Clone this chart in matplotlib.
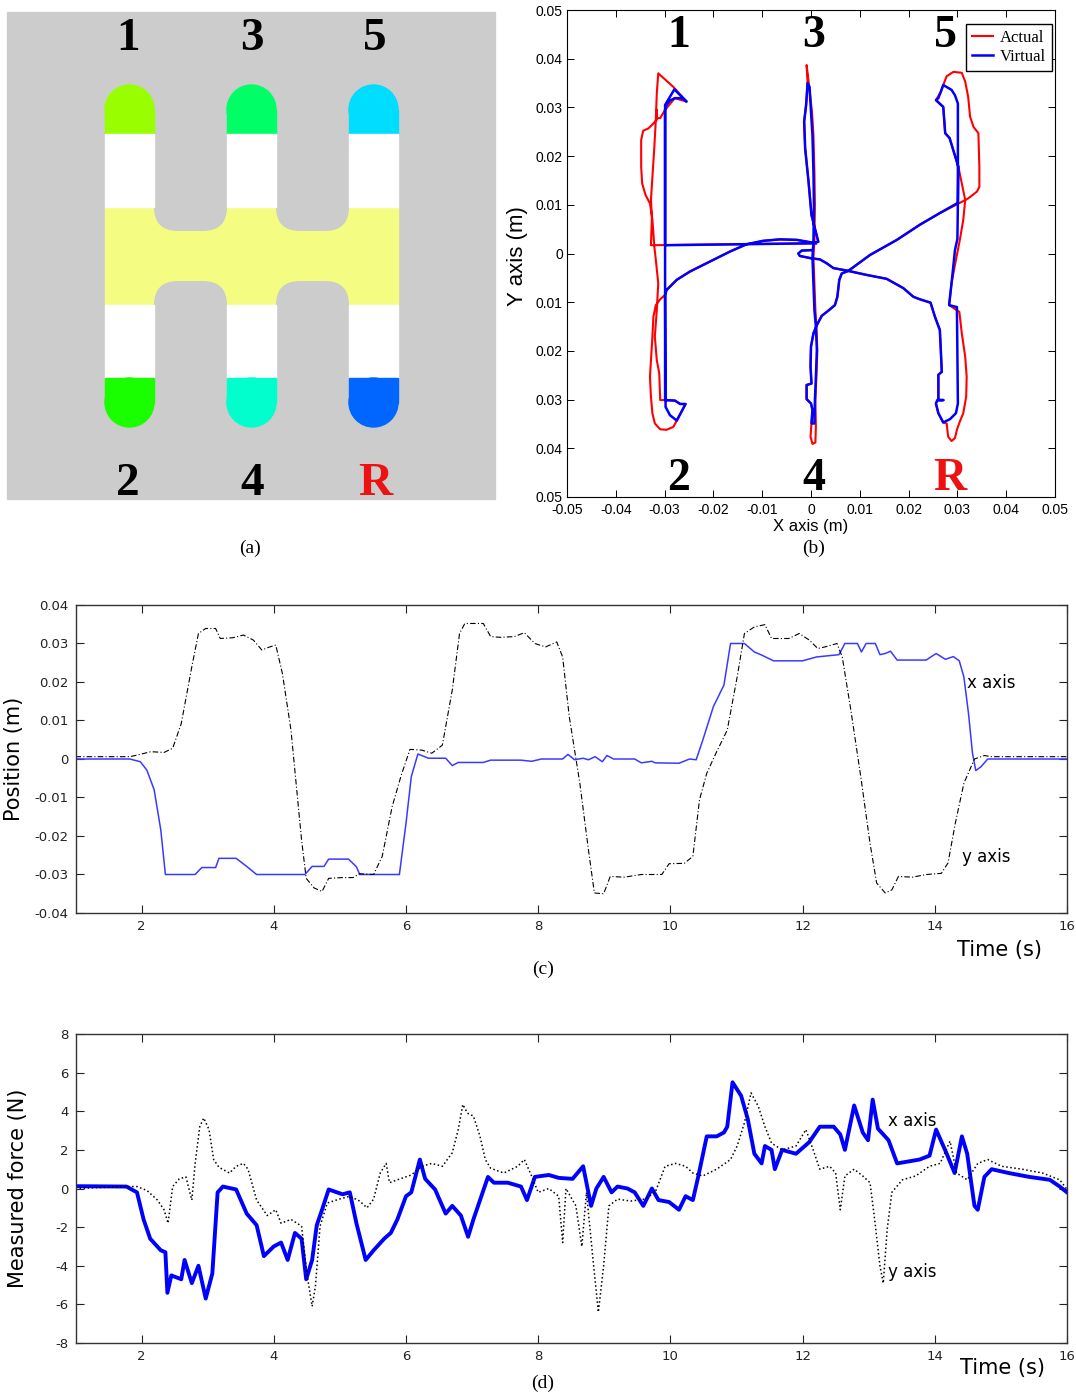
import numpy as np
import matplotlib
matplotlib.use('Agg')
import matplotlib.pyplot as plt
from matplotlib.patches import Rectangle, Circle, FancyBboxPatch

# ---- data ----
# (a) shift gate
gear_top = ['1', '3', '5']
gear_bottom = ['2', '4', 'R']
cap_top_colors = ['#99ff00', '#00ff66', '#00ddff']
cap_bottom_colors = ['#1aff00', '#00ffcc', '#0066ff']

# (b) trajectories (m)
virtual_x = [0.001, -0.0299, -0.0299, -0.0296, -0.0289, -0.0279, -0.0265, -0.0255, -0.0280, -0.0299,
             -0.0299, -0.0279, -0.0268, -0.0257, -0.0275, -0.0289, -0.0298, -0.0299, -0.0296, -0.0275,
             -0.0248, -0.0200, -0.0166, -0.0132, -0.0098, -0.0064, -0.0029, 0.0005, 0.0015, 0.0001,
             -0.0005, -0.0012, -0.0014, -0.0010, -0.0007, -0.0003, 0.0000, 0.0003, 0.0005, 0.0006,
             0.0005, 0.0003, 0.0005, 0.0007, 0.0010, 0.0012, 0.0010, 0.0008, 0.0007, 0.0001,
             0.0003, 0.0000, -0.0009, -0.0009, 0.0001, -0.0001, 0.0000, 0.0005, 0.0012, 0.0022,
             0.0036, 0.0049, 0.0054, 0.0058, 0.0063, 0.0076, 0.0121, 0.0176, 0.0223, 0.0264,
             0.0301, 0.0301, 0.0295, 0.0288, 0.0271, 0.0266, 0.0261, 0.0256, 0.0271, 0.0275,
             0.0284, 0.0302, 0.0300, 0.0295, 0.0288, 0.0283, 0.0299, 0.0301, 0.0297, 0.0285,
             0.0271, 0.0261, 0.0256, 0.0259, 0.0271, 0.0261, 0.0261, 0.0268, 0.0266, 0.0264,
             0.0254, 0.0245, 0.0223, 0.0210, 0.0189, 0.0155, 0.0114, 0.0073, 0.0046, 0.0032,
             0.0018, 0.0001, -0.0023, -0.0026, -0.0019, 0.0003]
virtual_y = [0.0021, 0.0017, 0.0295, 0.0305, 0.0314, 0.0319, 0.0319, 0.0312, 0.0337, 0.0305,
             -0.0301, -0.0302, -0.0309, -0.0309, -0.0343, -0.0332, -0.0315, -0.0085, -0.0075, -0.0054,
             -0.0037, -0.0013, 0.0004, 0.0019, 0.0026, 0.0029, 0.0028, 0.0022, 0.0024, 0.0079,
             0.0147, 0.0216, 0.0271, 0.0305, 0.0350, 0.0342, 0.0291, 0.0243, 0.0168, 0.0100,
             0.0024, -0.0007, -0.0061, -0.0116, -0.0150, -0.0198, -0.0253, -0.0301, -0.0349, -0.0349,
             -0.0321, -0.0308, -0.0299, -0.0270, -0.0267, -0.0232, -0.0191, -0.0164, -0.0147, -0.0128,
             -0.0117, -0.0106, -0.0089, -0.0054, -0.0041, -0.0036, -0.0003, 0.0028, 0.0059, 0.0083,
             0.0104, 0.0308, 0.0325, 0.0336, 0.0346, 0.0332, 0.0319, 0.0315, 0.0301, 0.0247,
             0.0237, 0.0178, 0.0030, 0.0007, -0.0061, -0.0106, -0.0110, -0.0308, -0.0328, -0.0340,
             -0.0347, -0.0328, -0.0308, -0.0301, -0.0301, -0.0301, -0.0249, -0.0243, -0.0198, -0.0157,
             -0.0130, -0.0101, -0.0094, -0.0089, -0.0071, -0.0052, -0.0044, -0.0035, -0.0030, -0.0020,
             -0.0012, -0.0010, -0.0005, 0.0000, 0.0006, 0.0007]

actual_x = [0.001, -0.0328, -0.0326, -0.0328, -0.0325, -0.0321, -0.0318, -0.0316, -0.0313, -0.0282,
            -0.0255, -0.0279, -0.0299, -0.0309, -0.0316, -0.0316, -0.0316, -0.0323, -0.0333, -0.0344,
            -0.0348, -0.0348, -0.0346, -0.0339, -0.0330, -0.0325, -0.0321, -0.0318, -0.0313, -0.0316,
            -0.0320, -0.0316, -0.0311, -0.0309, -0.0299, -0.0279, -0.0268, -0.0257, -0.0275, -0.0282,
            -0.0296, -0.0309, -0.0320, -0.0325, -0.0328, -0.0330, -0.0328, -0.0325, -0.0323, -0.0318,
            -0.0309, -0.0299, -0.0296, -0.0275, -0.0248, -0.0200, -0.0166, -0.0132, -0.0098, -0.0064,
            -0.0029, 0.0005, 0.0015, 0.0001, -0.0005, -0.0012, -0.0014, -0.0010, -0.0007, -0.0009,
            -0.0004, 0.0002, 0.0005, 0.0007, 0.0008, 0.0007, 0.0005, 0.0007, 0.0009, 0.0011,
            0.0013, 0.0011, 0.0009, 0.0010, 0.0009, 0.0003, -0.0001, 0.0001, 0.0003, 0.0000,
            -0.0009, -0.0009, 0.0001, -0.0001, 0.0000, 0.0005, 0.0012, 0.0022, 0.0036, 0.0049,
            0.0054, 0.0058, 0.0063, 0.0076, 0.0121, 0.0176, 0.0223, 0.0264, 0.0305, 0.0322,
            0.0340, 0.0345, 0.0345, 0.0343, 0.0333, 0.0326, 0.0322, 0.0316, 0.0309, 0.0292,
            0.0278, 0.0271, 0.0266, 0.0256, 0.0271, 0.0275, 0.0284, 0.0302, 0.0316, 0.0312,
            0.0305, 0.0297, 0.0288, 0.0283, 0.0304, 0.0309, 0.0316, 0.0319, 0.0318, 0.0312,
            0.0305, 0.0299, 0.0295, 0.0288, 0.0281, 0.0278, 0.0271, 0.0261, 0.0256, 0.0259,
            0.0271, 0.0261, 0.0261, 0.0268, 0.0266, 0.0264, 0.0254, 0.0245, 0.0223, 0.0210,
            0.0189, 0.0155, 0.0114, 0.0073, 0.0046, 0.0032, 0.0018, 0.0001, -0.0023, -0.0026,
            -0.0019, 0.0003]
actual_y = [0.0021, 0.0017, 0.0076, 0.0110, 0.0158, 0.0219, 0.0274, 0.0329, 0.0370, 0.0342,
            0.0312, 0.0319, 0.0295, 0.0278, 0.0278, 0.0295, 0.0275, 0.0267, 0.0257, 0.0252,
            0.0233, 0.0178, 0.0144, 0.0120, 0.0103, 0.0069, 0.0014, -0.0013, -0.0061, -0.0116,
            -0.0171, -0.0219, -0.0246, -0.0301, -0.0301, -0.0302, -0.0309, -0.0309, -0.0343, -0.0356,
            -0.0362, -0.0361, -0.0349, -0.0328, -0.0294, -0.0253, -0.0219, -0.0171, -0.0130, -0.0106,
            -0.0094, -0.0085, -0.0075, -0.0054, -0.0037, -0.0013, 0.0004, 0.0019, 0.0026, 0.0029,
            0.0028, 0.0022, 0.0024, 0.0079, 0.0147, 0.0216, 0.0271, 0.0305, 0.0350, 0.0387,
            0.0345, 0.0291, 0.0243, 0.0168, 0.0100, 0.0024, -0.0007, -0.0061, -0.0116, -0.0150,
            -0.0198, -0.0253, -0.0301, -0.0356, -0.0388, -0.0391, -0.0376, -0.0349, -0.0321, -0.0308,
            -0.0299, -0.0270, -0.0267, -0.0232, -0.0191, -0.0164, -0.0147, -0.0128, -0.0117, -0.0106,
            -0.0089, -0.0054, -0.0041, -0.0036, -0.0003, 0.0028, 0.0059, 0.0083, 0.0104, 0.0113,
            0.0127, 0.0137, 0.0178, 0.0247, 0.0260, 0.0281, 0.0322, 0.0353, 0.0371, 0.0373,
            0.0364, 0.0346, 0.0332, 0.0315, 0.0301, 0.0247, 0.0237, 0.0178, 0.0110, 0.0069,
            0.0028, -0.0013, -0.0061, -0.0106, -0.0120, -0.0164, -0.0212, -0.0253, -0.0294, -0.0328,
            -0.0345, -0.0362, -0.0379, -0.0385, -0.0376, -0.0349, -0.0347, -0.0328, -0.0308, -0.0301,
            -0.0301, -0.0301, -0.0249, -0.0243, -0.0198, -0.0157, -0.0130, -0.0101, -0.0094, -0.0089,
            -0.0071, -0.0052, -0.0044, -0.0035, -0.0030, -0.0020, -0.0012, -0.0010, -0.0005, 0.0000,
            0.0006, 0.0007]

b_ticks = [-0.05, -0.04, -0.03, -0.02, -0.01, 0, 0.01, 0.02, 0.03, 0.04, 0.05]
b_xticklabels = ['-0.05', '-0.04', '-0.03', '-0.02', '-0.01', '0', '0.01', '0.02', '0.03', '0.04', '0.05']
b_yticklabels = ['0.05', '0.04', '0.03', '0.02', '0.01', '0', '0.01', '0.02', '0.03', '0.04', '0.05']

# (c) position vs time
pos_x_t = [1, 1.82, 1.98, 2.08, 2.19, 2.29, 2.36, 2.81, 2.91, 3.12, 3.17, 3.43, 3.59, 3.74, 4.47,
           4.58, 4.76, 4.83, 5.13, 5.25, 5.30, 5.90, 6.0, 6.08, 6.18, 6.34, 6.6, 6.70, 6.79, 7.17,
           7.28, 7.74, 7.9, 8.05, 8.37, 8.45, 8.55, 8.68, 8.76, 8.86, 8.97, 9.04, 9.14, 9.46, 9.56,
           9.72, 9.77, 10.13, 10.29, 10.39, 10.49, 10.65, 10.81, 10.91, 11.12, 11.27, 11.38, 11.56, 12.0, 12.21,
           12.55, 12.64, 12.83, 12.89, 12.96, 13.1, 13.17, 13.25, 13.33, 13.43, 13.87, 14.02, 14.16, 14.28, 14.37,
           14.44, 14.51, 14.57, 14.62, 14.7, 14.8, 14.91, 16]
pos_x = [0, 0, -0.0007, -0.0029, -0.008, -0.0184, -0.030, -0.030, -0.0282, -0.0282, -0.0258, -0.0258,
         -0.0279, -0.030, -0.030, -0.0279, -0.0279, -0.026, -0.026, -0.028, -0.030, -0.030, -0.0167,
         -0.0046, 0.0013, 0.0002, 0.0002, -0.0017, -0.0009, -0.0009, -0.0003, -0.0003, -0.0006, 0, 0,
         0.0012, -0.0002, 0.0002, -0.0002, 0.0006, -0.0007, 0.0009, 0, 0, -0.001, -0.0006, -0.001,
         -0.0011, 0, -0.0002, 0.0049, 0.0136, 0.0192, 0.030, 0.030, 0.0278, 0.027, 0.0255, 0.0255,
         0.0265, 0.0271, 0.030, 0.030, 0.0278, 0.030, 0.030, 0.0271, 0.0274, 0.028, 0.0257, 0.0257,
         0.0274, 0.0259, 0.0266, 0.0255, 0.0213, 0.0118, 0.0015, -0.003, -0.002, 0, 0, 0]
pos_y_t = [1, 1.82, 1.93, 2.14, 2.34, 2.47, 2.60, 2.76, 2.86, 2.97, 3.12, 3.19, 3.38, 3.54, 3.69,
           3.82, 3.92, 4.03, 4.13, 4.26, 4.42, 4.49, 4.61, 4.73, 4.83, 5.04, 5.20, 5.30, 5.51, 5.64,
           5.79, 5.93, 6.06, 6.24, 6.39, 6.55, 6.70, 6.81, 6.89, 7.17, 7.28, 7.43, 7.64, 7.79, 7.95,
           8.11, 8.28, 8.37, 8.47, 8.63, 8.76, 8.85, 8.99, 9.09, 9.30, 9.56, 9.87, 9.98, 10.21, 10.34,
           10.44, 10.55, 10.70, 10.86, 11.01, 11.12, 11.27, 11.43, 11.53, 11.79, 11.95, 12.1, 12.23, 12.36, 12.52,
           12.6, 12.73, 12.88, 13.02, 13.12, 13.25, 13.35, 13.45, 13.66, 13.87, 14.1, 14.2, 14.31, 14.44,
           14.6, 14.75, 14.86, 16]
pos_y = [0.0006, 0.0006, 0.001, 0.0019, 0.0017, 0.0028, 0.0092, 0.024, 0.0326, 0.0339, 0.0339, 0.0313,
         0.0315, 0.0322, 0.0309, 0.0283, 0.029, 0.0296, 0.0222, 0.0075, -0.021, -0.031, -0.0335, -0.0344,
         -0.031, -0.0308, -0.0308, -0.0298, -0.030, -0.0253, -0.0124, -0.0041, 0.0025, 0.0023, 0.0015,
         0.0036, 0.0179, 0.0326, 0.0352, 0.0352, 0.0318, 0.0316, 0.0318, 0.0328, 0.030, 0.0291, 0.0304,
         0.0265, 0.011, -0.0063, -0.0236, -0.0348, -0.035, -0.0305, -0.0307, -0.030, -0.030, -0.0272,
         -0.0271, -0.0253, -0.0106, -0.0037, 0.0019, 0.0075, 0.0213, 0.0326, 0.0343, 0.0349, 0.0313,
         0.0313, 0.0326, 0.0309, 0.0287, 0.0292, 0.030, 0.0265, 0.0127, -0.0046, -0.0219, -0.0322,
         -0.0348, -0.034, -0.0305, -0.0307, -0.030, -0.0297, -0.027, -0.0167, -0.0063, 0, 0.0009,
         0.0006, 0.0006]

# (d) measured force vs time
force_x_t = [1, 1.77, 1.93, 2.03, 2.13, 2.29, 2.36, 2.39, 2.45, 2.6, 2.65, 2.76, 2.86, 2.97, 3.07,
             3.15, 3.23, 3.43, 3.59, 3.74, 3.85, 4.0, 4.11, 4.21, 4.32, 4.42, 4.49, 4.58, 4.65, 4.73,
             4.83, 5.04, 5.15, 5.25, 5.39, 5.51, 5.67, 5.77, 5.87, 6.0, 6.08, 6.21, 6.29, 6.44, 6.6,
             6.7, 6.83, 6.94, 7.02, 7.12, 7.24, 7.33, 7.54, 7.74, 7.83, 7.95, 8.16, 8.31, 8.52, 8.68,
             8.8, 8.88, 8.99, 9.11, 9.2, 9.35, 9.46, 9.59, 9.72, 9.82, 9.98, 10.13, 10.23, 10.34, 10.42,
             10.55, 10.7, 10.81, 10.86, 10.94, 11.07, 11.17, 11.27, 11.38, 11.43, 11.53, 11.58, 11.69, 11.9,
             12.1, 12.26, 12.47, 12.57, 12.64, 12.78, 12.91, 12.99, 13.06, 13.14, 13.3, 13.43, 13.77, 13.92,
             14.02, 14.18, 14.3, 14.41, 14.49, 14.6, 14.65, 14.75, 14.86, 15.12, 15.43, 15.74, 15.89, 16]
force_x = [0.12, 0.1, -0.2, -1.6, -2.6, -3.2, -3.3, -5.4, -4.5, -4.7, -3.7, -4.9, -4.0, -5.7, -4.4,
           -0.2, 0.1, -0.05, -1.3, -1.9, -3.5, -3.0, -2.8, -3.7, -2.3, -2.6, -4.7, -3.7, -1.9, -1.1,
           -0.05, -0.3, -0.2, -1.8, -3.7, -3.2, -2.6, -2.3, -1.6, -0.4, -0.2, 1.5, 0.5, -0.05, -1.3,
           -0.9, -1.4, -2.5, -1.6, -0.6, 0.6, 0.3, 0.3, 0.1, -0.6, 0.6, 0.7, 0.55, 0.5, 1.15,
           -0.9, 0.0, 0.6, -0.2, 0.1, 0.0, -0.2, -0.9, 0.0, -0.6, -0.7, -1.1, -0.4, -0.6, 0.6,
           2.7, 2.7, 2.9, 3.2, 5.5, 4.8, 3.6, 1.8, 1.3, 2.2, 2.0, 1.0, 2.0, 1.8,
           2.4, 3.2, 3.2, 2.8, 2.0, 4.3, 2.9, 2.5, 4.6, 3.1, 2.5, 1.3, 1.5, 1.7,
           3.05, 1.8, 0.8, 2.7, 1.8, -0.9, -1.1, 0.6, 1.0, 0.8, 0.6, 0.45, 0.1, -0.2]
force_y_t = [1, 1.77, 1.93, 2.08, 2.24, 2.34, 2.4, 2.47, 2.57, 2.67, 2.76, 2.81, 2.88, 2.94, 3.02,
             3.09, 3.17, 3.33, 3.43, 3.54, 3.61, 3.74, 3.9, 4.03, 4.11, 4.26, 4.42, 4.5, 4.58, 4.63,
             4.7, 4.81, 4.99, 5.15, 5.3, 5.41, 5.51, 5.61, 5.7, 5.75, 5.87, 6.08, 6.24, 6.39, 6.55,
             6.7, 6.79, 6.86, 6.93, 7.02, 7.12, 7.2, 7.28, 7.48, 7.69, 7.79, 7.9, 8.0, 8.16, 8.31,
             8.37, 8.42, 8.57, 8.66, 8.73, 8.83, 8.91, 8.99, 9.07, 9.2, 9.4, 9.61, 9.77, 9.92, 10.08,
             10.23, 10.34, 10.49, 10.7, 10.91, 11.01, 11.12, 11.22, 11.33, 11.43, 11.53, 11.69, 11.9, 12.05,
             12.16, 12.26, 12.41, 12.5, 12.57, 12.64, 12.78, 12.91, 13.02, 13.09, 13.17, 13.22, 13.28, 13.35,
             13.51, 13.71, 13.92, 14.08, 14.23, 14.33, 14.49, 14.65, 14.8, 15.01, 15.32, 15.63, 15.89, 16]
force_y = [0.0, 0.1, 0.1, -0.1, -0.6, -1.1, -1.8, 0.1, 0.5, 0.6, -0.6, 1.3, 3.2, 3.65, 3.05,
           1.5, 1.1, 0.8, 1.15, 1.3, 1.0, -0.6, -1.4, -1.1, -1.8, -1.6, -1.95, -4.4, -6.1, -5.05,
           -1.95, -0.75, -0.55, -0.4, -0.65, -1.0, -0.55, 0.8, 1.3, 0.3, 0.45, 0.7, 1.15, 1.3, 1.15,
           1.85, 3.05, 4.35, 3.9, 3.75, 2.7, 1.5, 1.05, 0.8, 1.15, 1.5, 0.65, -0.2, 0.0, -0.4,
           -2.8, 0.0, -0.9, -3.0, -0.2, -3.7, -6.4, -4.0, -0.9, -0.55, -0.65, -0.55, -0.2, 1.15, 1.3,
           1.15, 0.8, 0.65, 1.0, 1.5, 2.2, 3.4, 4.95, 4.25, 3.2, 2.35, 2.0, 2.2, 3.05,
           2.0, 1.0, 1.15, 0.8, -1.1, 0.65, 1.0, 0.65, 0.3, -1.6, -4.0, -4.9, -2.1, -0.2,
           0.45, 0.65, 1.15, 1.3, 2.45, 0.8, 0.45, 1.3, 1.5, 1.15, 1.0, 0.8, 0.45, -0.05]

time_ticks = [2, 4, 6, 8, 10, 12, 14, 16]
pos_ticks = [-0.04, -0.03, -0.02, -0.01, 0, 0.01, 0.02, 0.03, 0.04]
pos_ticklabels = ['-0.04', '-0.03', '-0.02', '-0.01', '0', '0.01', '0.02', '0.03', '0.04']
force_ticks = [-8, -6, -4, -2, 0, 2, 4, 6, 8]

# ---- figure ----
plt.rcParams['axes.unicode_minus'] = False
W, H = 1076, 1398
fig = plt.figure(figsize=(W / 100, H / 100), dpi=100)


def box(l, t, r, b):
    return [l / W, 1 - b / H, (r - l) / W, (b - t) / H]


def ftext(px, py, s, **kw):
    fig.text(px / W, 1 - py / H, s, **kw)


serif = 'Liberation Serif'
arial = 'Liberation Sans'

# (a)
axa = fig.add_axes(box(0, 0, 500, 520))
axa.set_xlim(0, 500)
axa.set_ylim(520, 0)
axa.axis('off')
gray = '#cccccc'
axa.add_patch(Rectangle((7, 12), 488, 487, color=gray))
axa.add_patch(Rectangle((105, 207), 293, 98, color='#f4fc82'))
for gx in (154, 276):
    axa.add_patch(FancyBboxPatch((gx, 150), 73, 81, boxstyle='round,pad=0,rounding_size=24',
                                 fc=gray, ec='none'))
    axa.add_patch(FancyBboxPatch((gx, 281), 73, 90, boxstyle='round,pad=0,rounding_size=24',
                                 fc=gray, ec='none'))
r = 24.5
for i, cx in enumerate([129.5, 251.5, 373.5]):
    ct, cb = cap_top_colors[i], cap_bottom_colors[i]
    axa.add_patch(Circle((cx, 85 + r), r, color=ct))
    axa.add_patch(Rectangle((cx - r, 85 + r), 2 * r, 134 - 85 - r, color=ct))
    axa.add_patch(Rectangle((cx - r, 134), 2 * r, 73, color='white'))
    axa.add_patch(Rectangle((cx - r, 305), 2 * r, 73, color='white'))
    axa.add_patch(Rectangle((cx - r, 378), 2 * r, 427 - r - 378, color=cb))
    axa.add_patch(Circle((cx, 427 - r), r, color=cb))
for i, cx in enumerate([128, 252, 375]):
    axa.text(cx, 50, gear_top[i], ha='center', va='baseline', fontsize=34,
             fontweight='bold', family=serif, color='black')
    axa.text(cx, 495, gear_bottom[i], ha='center', va='baseline', fontsize=34,
             fontweight='bold', family=serif,
             color='#ee1111' if gear_bottom[i] == 'R' else 'black')
ftext(250, 548, '(a)', ha='center', va='center', fontsize=14, family=serif)

# (b)
axb = fig.add_axes(box(567, 10, 1055, 497))
axb.plot(actual_x, actual_y, color='red', lw=1.5, label='Actual')
axb.plot(virtual_x, virtual_y, color='blue', lw=1.8, label='Virtual')
axb.set_xlim(-0.05, 0.05)
axb.set_ylim(-0.05, 0.05)
axb.set_xticks(b_ticks)
axb.set_xticklabels(b_xticklabels, family=arial)
axb.set_yticks(b_ticks)
axb.set_yticklabels(b_yticklabels, family=arial)
axb.tick_params(direction='in', top=True, right=True, length=5, width=0.7, labelsize=10)
axb.tick_params(axis='x', pad=4)
axb.tick_params(axis='y', pad=3)
for s in axb.spines.values():
    s.set_linewidth(0.8)
leg = axb.legend(loc='upper right', bbox_to_anchor=(0.994, 0.971),
                 prop={'family': serif, 'size': 12}, fancybox=False,
                 edgecolor='black', framealpha=1, handlelength=1.3, handletextpad=0.4,
                 labelspacing=0.2, borderpad=0.35, borderaxespad=0)
leg.get_frame().set_linewidth(1.0)
for i, gx in enumerate([-0.027, 0.0006, 0.0275]):
    axb.text(gx, 0.0425, gear_top[i], ha='center', va='baseline', fontsize=33,
             fontweight='bold', family=serif)
for i, gx in enumerate([-0.0272, 0.0006, 0.0285]):
    axb.text(gx, -0.0485, gear_bottom[i], ha='center', va='baseline', fontsize=33,
             fontweight='bold', family=serif,
             color='#ee1111' if gear_bottom[i] == 'R' else 'black')
ftext(517, 256, 'Y axis (m)', rotation=90, ha='center', va='center', fontsize=16, family=arial)
ftext(811, 527, 'X axis (m)', ha='center', va='center', fontsize=12, family=arial)
ftext(814, 548, '(b)', ha='center', va='center', fontsize=14, family=serif)

# (c)
axc = fig.add_axes(box(75.5, 605, 1067, 913))
axc.plot(pos_x_t, pos_x, color='#3a3aff', lw=1.1)
axc.plot(pos_y_t, pos_y, color='black', lw=0.8, linestyle=(0, (5, 2, 1, 2)))
axc.set_xlim(1, 16)
axc.set_ylim(-0.04, 0.04)
axc.set_xticks(time_ticks)
axc.set_yticks(pos_ticks)
axc.set_yticklabels(pos_ticklabels)
axc.text(14.49, 0.0197, 'x axis', ha='left', va='center', fontsize=12)
axc.text(14.41, -0.0255, 'y axis', ha='left', va='center', fontsize=12)
ftext(957, 950, 'Time (s)', ha='left', va='center', fontsize=15)
ftext(14, 759, 'Position (m)', rotation=90, ha='center', va='center', fontsize=15)
ftext(543, 969, '(c)', ha='center', va='center', fontsize=14, family=serif)

# (d)
axd = fig.add_axes(box(75.5, 1034, 1067, 1343))
axd.plot(force_x_t, force_x, color='blue', lw=2.8)
axd.plot(force_y_t, force_y, color='black', lw=1.1, linestyle=':')
axd.set_xlim(1, 16)
axd.set_ylim(-8, 8)
axd.set_xticks(time_ticks)
axd.set_yticks(force_ticks)
axd.text(13.29, 3.47, 'x axis', ha='left', va='center', fontsize=12)
axd.text(13.29, -4.3, 'y axis', ha='left', va='center', fontsize=12)
ftext(960, 1368, 'Time (s)', ha='left', va='center', fontsize=15)
ftext(18, 1188, 'Measured force (N)', rotation=90, ha='center', va='center', fontsize=15)
ftext(543, 1383, '(d)', ha='center', va='center', fontsize=14, family=serif)

for ax in (axc, axd):
    ax.tick_params(direction='in', top=True, right=True, length=6, width=0.8,
                   labelsize=9.5, pad=5, colors='#222222')
    for s in ax.spines.values():
        s.set_linewidth(1.0)
        s.set_color('#333333')

fig.savefig('out.png', dpi=100)
